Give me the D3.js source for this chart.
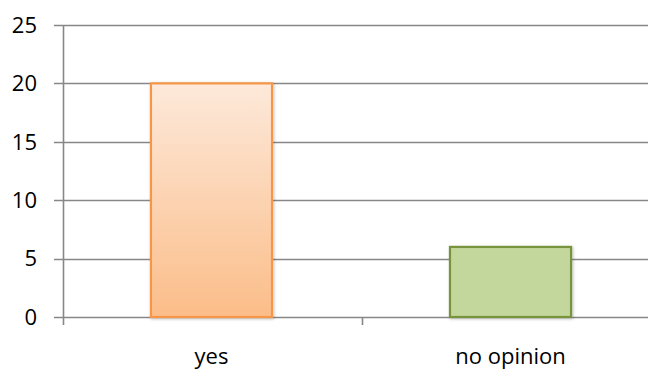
<!DOCTYPE html>
<html><head><meta charset="utf-8">
<script src="https://cdn.jsdelivr.net/npm/d3@7"></script>
<style>html,body{margin:0;padding:0;background:#fff;overflow:hidden}</style>
</head><body>
<svg id="chart" width="648" height="371"></svg>
<script>
const categories = ["yes", "no opinion"];
const values = [20, 6];
const yTicks = [0, 5, 10, 15, 20, 25];
const barFills = ["url(#gradYes)", "#c3d69b"];
const barStrokes = ["#f79646", "#77933c"];

const svg = d3.select("#chart");
const W = 648, H = 371;
const plot = {left: 63, right: 659, top: 25, bottom: 317};

const defs = svg.append("defs");
const g1 = defs.append("linearGradient").attr("id","gradYes").attr("x1",0).attr("y1",0).attr("x2",0).attr("y2",1);
g1.append("stop").attr("offset","0%").attr("stop-color","#fde9da");
g1.append("stop").attr("offset","100%").attr("stop-color","#fbbd89");
const f = defs.append("filter").attr("id","shadow").attr("x","-10%").attr("y","-10%").attr("width","130%").attr("height","130%");
f.append("feDropShadow").attr("dx",1).attr("dy",1).attr("stdDeviation",1.5).attr("flood-color","#000").attr("flood-opacity",0.25);

const x = d3.scaleBand().domain(categories).range([plot.left, plot.right]).paddingInner(0.595).paddingOuter(0.294);
const y = d3.scaleLinear().domain([0, 25]).range([plot.bottom, plot.top]);

// gridlines
svg.append("g").selectAll("line").data(yTicks).join("line")
  .attr("x1", 54).attr("x2", W)
  .attr("y1", d => Math.round(y(d)) + 0.5).attr("y2", d => Math.round(y(d)) + 0.5)
  .attr("stroke", "#878787").attr("stroke-width", 1.6);

// y axis line
svg.append("line").attr("x1", plot.left + 0.5).attr("x2", plot.left + 0.5)
  .attr("y1", plot.top).attr("y2", plot.bottom + 8)
  .attr("stroke", "#878787").attr("stroke-width", 1.6);

// category boundary ticks
const step = x.step();
const bounds = [plot.left + step, plot.left + 2 * step];
svg.append("g").selectAll("line").data(bounds).join("line")
  .attr("x1", d => Math.round(d) + 0.5).attr("x2", d => Math.round(d) + 0.5)
  .attr("y1", plot.bottom).attr("y2", plot.bottom + 8)
  .attr("stroke", "#878787").attr("stroke-width", 1.6);

// y labels
svg.append("g").selectAll("text").data(yTicks).join("text")
  .attr("x", 37).attr("y", d => y(d)).attr("dy", "0.35em")
  .attr("text-anchor", "end")
  .attr("font-family", "Open Sans, sans-serif").attr("font-size", 22).attr("fill", "#000")
  .text(d => d);

// bars
svg.append("g").selectAll("rect").data(values).join("rect")
  .attr("x", (d, i) => x(categories[i]))
  .attr("y", d => y(d))
  .attr("width", x.bandwidth())
  .attr("height", d => y(0) - y(d))
  .attr("fill", (d, i) => barFills[i])
  .attr("stroke", (d, i) => barStrokes[i])
  .attr("stroke-width", 2.2)
  .attr("filter", "url(#shadow)");

// category labels
svg.append("g").selectAll("text").data(categories).join("text")
  .attr("x", d => x(d) + x.bandwidth() / 2).attr("y", 364)
  .attr("text-anchor", "middle")
  .attr("font-family", "Open Sans, sans-serif").attr("font-size", 22).attr("fill", "#000")
  .text(d => d);
</script>
</body></html>
